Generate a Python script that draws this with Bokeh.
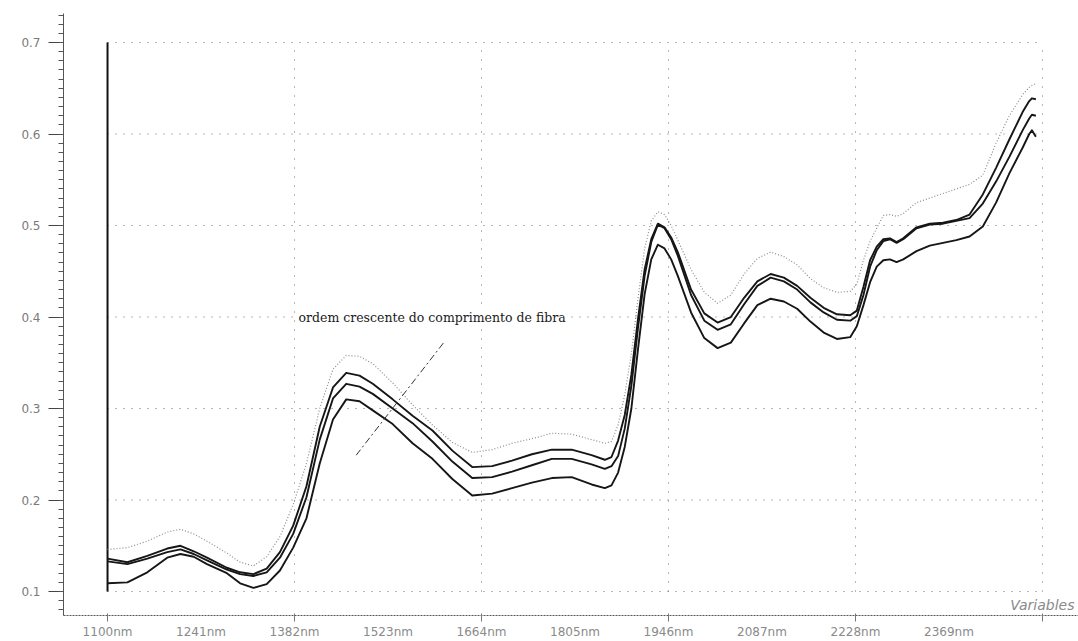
from bokeh.plotting import figure
from bokeh.models import Range1d, FixedTicker, Label, ColumnDataSource
from bokeh.embed import file_html
from bokeh.resources import INLINE

# Wavelengths (nm) shared by all spectra
wavelength = [1100, 1130, 1160, 1190, 1210, 1230, 1250, 1280, 1300, 1320, 1340, 1360, 1380,
              1400, 1420, 1440, 1460, 1480, 1500, 1530, 1560, 1590, 1620, 1650, 1680, 1710,
              1740, 1770, 1800, 1830, 1850, 1860, 1870, 1880, 1890, 1900, 1910, 1920, 1930,
              1940, 1950, 1960, 1980, 2000, 2020, 2040, 2060, 2080, 2100, 2120, 2140, 2160,
              2180, 2200, 2220, 2230, 2240, 2250, 2260, 2270, 2280, 2290, 2300, 2320, 2340,
              2360, 2380, 2400, 2420, 2440, 2460, 2480, 2490, 2494, 2500]

# Mean spectra, one per fibre-length class
spectrum_dotted = [0.146, 0.148, 0.155, 0.165, 0.168, 0.163, 0.155, 0.142, 0.132, 0.128, 0.138, 0.160, 0.195,
                   0.240, 0.300, 0.343, 0.358, 0.357, 0.349, 0.328, 0.304, 0.282, 0.263, 0.252, 0.255, 0.262,
                   0.267, 0.273, 0.272, 0.266, 0.262, 0.264, 0.282, 0.315, 0.360, 0.420, 0.475, 0.505, 0.515,
                   0.512, 0.500, 0.484, 0.452, 0.427, 0.415, 0.424, 0.447, 0.464, 0.471, 0.466, 0.457, 0.442,
                   0.432, 0.427, 0.428, 0.436, 0.462, 0.483, 0.497, 0.511, 0.512, 0.510, 0.513, 0.525, 0.530,
                   0.535, 0.540, 0.545, 0.555, 0.590, 0.620, 0.643, 0.651, 0.653, 0.655]

spectrum_top = [0.136, 0.132, 0.139, 0.147, 0.150, 0.144, 0.137, 0.126, 0.121, 0.119, 0.125, 0.143, 0.172,
                0.215, 0.280, 0.323, 0.339, 0.336, 0.327, 0.310, 0.292, 0.276, 0.254, 0.236, 0.237, 0.243,
                0.250, 0.255, 0.255, 0.249, 0.244, 0.247, 0.265, 0.293, 0.337, 0.398, 0.452, 0.485, 0.502,
                0.498, 0.487, 0.471, 0.430, 0.404, 0.394, 0.400, 0.421, 0.439, 0.447, 0.443, 0.434, 0.421,
                0.410, 0.403, 0.402, 0.407, 0.433, 0.462, 0.477, 0.485, 0.486, 0.482, 0.486, 0.498, 0.502,
                0.503, 0.506, 0.512, 0.534, 0.563, 0.594, 0.624, 0.636, 0.639, 0.638]

spectrum_middle = [0.133, 0.130, 0.136, 0.143, 0.146, 0.141, 0.134, 0.124, 0.119, 0.117, 0.121, 0.137, 0.163,
                   0.203, 0.266, 0.311, 0.327, 0.324, 0.316, 0.300, 0.284, 0.264, 0.242, 0.224, 0.225, 0.231,
                   0.238, 0.245, 0.245, 0.239, 0.234, 0.237, 0.248, 0.278, 0.325, 0.388, 0.445, 0.482, 0.501,
                   0.497, 0.485, 0.467, 0.424, 0.396, 0.386, 0.392, 0.414, 0.434, 0.443, 0.439, 0.430, 0.416,
                   0.405, 0.397, 0.396, 0.401, 0.424, 0.455, 0.473, 0.483, 0.485, 0.481, 0.485, 0.497, 0.501,
                   0.502, 0.505, 0.508, 0.524, 0.548, 0.575, 0.604, 0.617, 0.621, 0.620]

spectrum_bottom = [0.109, 0.110, 0.121, 0.137, 0.141, 0.138, 0.130, 0.120, 0.109, 0.104, 0.108, 0.123, 0.148,
                   0.180, 0.240, 0.288, 0.310, 0.308, 0.298, 0.283, 0.262, 0.245, 0.223, 0.205, 0.207, 0.213,
                   0.219, 0.224, 0.225, 0.217, 0.213, 0.216, 0.230, 0.258, 0.300, 0.365, 0.425, 0.463, 0.479,
                   0.475, 0.463, 0.445, 0.405, 0.377, 0.366, 0.372, 0.393, 0.413, 0.420, 0.417, 0.409, 0.395,
                   0.383, 0.376, 0.378, 0.390, 0.413, 0.438, 0.455, 0.462, 0.463, 0.460, 0.463, 0.472, 0.478,
                   0.481, 0.484, 0.488, 0.499, 0.525, 0.557, 0.585, 0.600, 0.604, 0.597]

# Axis ticks and labels
x_tick_values = [1100, 1241, 1382, 1523, 1664, 1805, 1946, 2087, 2228, 2369]
x_tick_labels = ["1100nm", "1241nm", "1382nm", "1523nm", "1664nm",
                 "1805nm", "1946nm", "2087nm", "2228nm", "2369nm"]
x_grid_values = [1382, 1664, 1946, 2228, 2510]
y_tick_values = [0.1, 0.2, 0.3, 0.4, 0.5, 0.6, 0.7]
y_tick_labels = ["0.1", "0.2", "0.3", "0.4", "0.5", "0.6", "0.7"]

# Annotation: direction of increasing fibre length
note_text = "ordem crescente do comprimento de fibra"
note_pos = (1388, 0.400)
arrow_x = [1475, 1608]
arrow_y = [0.249, 0.373]

X_START, X_END = 1033.6, 2564.3
Y_START, Y_END = 0.0738, 0.7317

p = figure(width=1078, height=641, output_backend="svg", toolbar_location=None,
           x_range=Range1d(X_START, X_END), y_range=Range1d(Y_START, Y_END),
           min_border_left=63, min_border_right=0, min_border_top=13, min_border_bottom=26)
p.outline_line_color = None
p.background_fill_color = "white"
p.border_fill_color = "white"
p.xgrid.visible = False
p.ygrid.visible = False

# dotted grid, drawn only over the spectral span
grid_color = "#6f6f6f"
p.segment(x0=[x_tick_values[0]] * len(y_tick_values), x1=[x_grid_values[-1]] * len(y_tick_values),
          y0=y_tick_values, y1=y_tick_values, line_color=grid_color, line_width=1, line_dash="1 7")
p.segment(x0=x_grid_values, x1=x_grid_values,
          y0=[y_tick_values[0]] * len(x_grid_values), y1=[y_tick_values[-1]] * len(x_grid_values),
          line_color=grid_color, line_width=1, line_dash="1 8")

# solid left boundary of the spectra
p.segment(x0=[x_tick_values[0]], x1=[x_tick_values[0]], y0=[y_tick_values[0]], y1=[y_tick_values[-1]],
          line_color="#111111", line_width=2)

src = ColumnDataSource(dict(wl=wavelength, d=spectrum_dotted, a=spectrum_top,
                            b=spectrum_middle, c=spectrum_bottom))
p.line("wl", "d", source=src, line_color="#8c8c8c", line_width=1.2, line_dash="1 2")
for col in ("a", "b", "c"):
    p.line("wl", col, source=src, line_color="#161616", line_width=1.9, line_join="round")

p.line(arrow_x, arrow_y, line_color="#333333", line_width=1, line_dash="7 3 2 3")
p.add_layout(Label(x=note_pos[0], y=note_pos[1], text=note_text, text_font="DejaVu Serif",
                   text_font_size="12.5px", text_color="#1a1a1a", text_baseline="middle",
                   text_align="left", background_fill_color="white"))

# axis caption in the lower right corner of the frame
p.add_layout(Label(x=1011, y=11, x_units="screen", y_units="screen", text="Variables",
                   text_font="DejaVu Sans", text_font_style="italic", text_font_size="14px",
                   text_color="#8a8a8a", text_align="right", text_baseline="middle"))

# x axis: dotted line, labels every 141 nm, small ticks at the grid positions
xa = p.xaxis[0]
xa.ticker = FixedTicker(ticks=x_tick_values, minor_ticks=[x_tick_values[0]] + x_grid_values)
xa.major_label_overrides = {v: t for v, t in zip(x_tick_values, x_tick_labels)}
xa.axis_line_color = "#555555"
xa.axis_line_dash = "2 1"
xa.axis_line_width = 1
xa.major_tick_out = 0
xa.major_tick_in = 0
xa.minor_tick_out = 6
xa.minor_tick_in = 2
xa.minor_tick_line_color = "#777777"
xa.major_label_standoff = 3
xa.major_label_text_font = "DejaVu Sans"
xa.major_label_text_font_size = "12px"
xa.major_label_text_color = "#8a8a8a"

# y axis: thin line with major and minor ticks
ya = p.yaxis[0]
ya.ticker = FixedTicker(ticks=y_tick_values,
                        minor_ticks=[round(0.08 + 0.01 * i, 2) for i in range(66)])
ya.major_label_overrides = {v: t for v, t in zip(y_tick_values, y_tick_labels)}
ya.axis_line_color = "#555555"
ya.axis_line_width = 1
ya.major_tick_out = 15
ya.major_tick_in = 0
ya.major_tick_line_color = "#444444"
ya.minor_tick_out = 5
ya.minor_tick_in = 0
ya.minor_tick_line_color = "#555555"
ya.major_label_standoff = 8
ya.major_label_text_font = "DejaVu Sans"
ya.major_label_text_font_size = "12px"
ya.major_label_text_color = "#7a7a7a"

open("out.html", "w").write(file_html(p, INLINE))
